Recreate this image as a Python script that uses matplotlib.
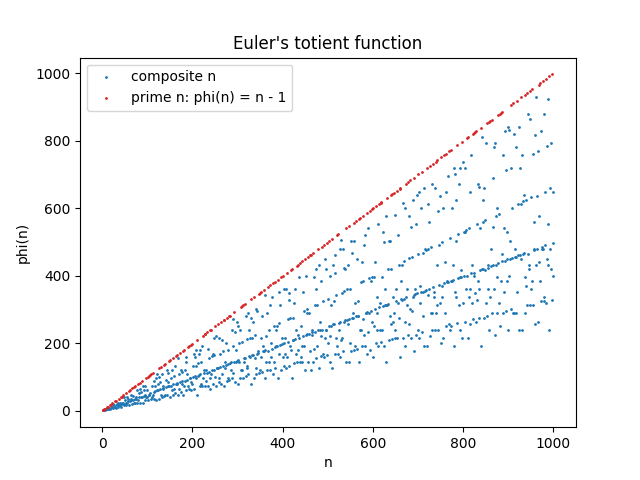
import matplotlib
matplotlib.use("Agg")
import matplotlib.pyplot as plt
import numpy as np

# n = 1..1000 and Euler's totient phi(n) (exact values, via a sieve)
n_values = np.arange(1, 1001)
phi_values = n_values.copy()
for p in range(2, 1001):
    if phi_values[p - 1] == p:  # p still untouched -> prime
        phi_values[p - 1::p] -= phi_values[p - 1::p] // p

is_prime = (phi_values == n_values - 1) & (n_values > 1)

fig, ax = plt.subplots(figsize=(6.4, 4.8), dpi=100)
ax.scatter(n_values[~is_prime], phi_values[~is_prime], s=1, color="tab:blue", label="composite n")
ax.scatter(n_values[is_prime], phi_values[is_prime], s=1, color="tab:red", label="prime n: phi(n) = n - 1")
ax.set_title("Euler's totient function")
ax.set_xlabel("n")
ax.set_ylabel("phi(n)")
ax.legend(loc="upper left")
fig.savefig("out.png")
